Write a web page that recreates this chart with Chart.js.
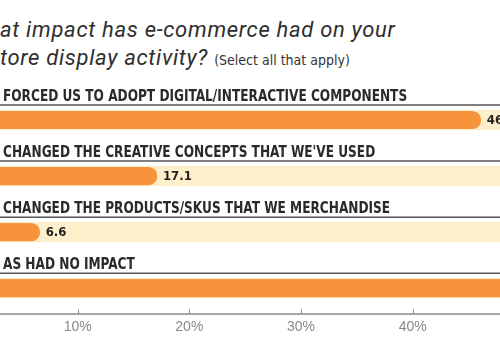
<!DOCTYPE html>
<html>
<head>
<meta charset="utf-8">
<script src="https://cdn.jsdelivr.net/npm/chart.js@4.4.1/dist/chart.umd.min.js"></script>
<style>
  html, body { margin: 0; padding: 0; background: #ffffff; width: 500px; height: 350px; overflow: hidden; }
  #title { position: absolute; left: 0; top: 16px; font-family: Roboto, "Liberation Sans", sans-serif; font-style: italic; font-size: 22px; letter-spacing: 0.7px; line-height: 28px; color: #2e2e2e; white-space: nowrap; }
  #title .sub { font-style: normal; letter-spacing: 0; font-family: "DejaVu Sans Condensed", sans-serif; font-size: 14px; color: #333; }
  #wrap { position: absolute; left: -37px; top: 0; width: 676px; height: 350px; }
</style>
</head>
<body>
<div id="title">at impact has e-commerce had on your<br>tore display activity? <span class="sub">(Select all that apply)</span></div>
<div id="wrap"><canvas id="c"></canvas></div>
<script>
const categories = [
  "FORCED US TO ADOPT DIGITAL/INTERACTIVE COMPONENTS",
  "CHANGED THE CREATIVE CONCEPTS THAT WE'VE USED",
  "CHANGED THE PRODUCTS/SKUS THAT WE MERCHANDISE",
  "AS HAD NO IMPACT"
];
const values = [46.1, 17.1, 6.6, 52.3];
const tickValues = [10, 20, 30, 40, 50];
const axisMin = 0;
const axisMax = 60;

const barColor = '#F7933B';
const trackColor = '#FEEFCC';

const decorPlugin = {
  id: 'decor',
  beforeDatasetsDraw(chart) {
    const ctx = chart.ctx;
    const meta = chart.getDatasetMeta(0);
    const area = chart.chartArea;
    ctx.save();
    meta.data.forEach((bar, i) => {
      const h = bar.height + 3;
      ctx.fillStyle = trackColor;
      ctx.fillRect(area.left, bar.y - h / 2, area.right - area.left, h);
      // category label (condensed) and underline
      ctx.save();
      ctx.fillStyle = '#2a2a2a';
      ctx.font = 'bold 15px "DejaVu Sans Condensed", sans-serif';
      ctx.textBaseline = 'alphabetic';
      ctx.textAlign = 'left';
      ctx.translate(area.left + 37, bar.y - 19.5);
      ctx.scale(0.9, 1);
      ctx.fillText(categories[i], 0, 0);
      ctx.restore();
      ctx.strokeStyle = '#555555';
      ctx.lineWidth = 1.5;
      ctx.beginPath();
      ctx.moveTo(0, bar.y - 15);
      ctx.lineTo(chart.width, bar.y - 15);
      ctx.stroke();
    });
    ctx.restore();
  },
  afterDatasetsDraw(chart) {
    const ctx = chart.ctx;
    const meta = chart.getDatasetMeta(0);
    const xs = chart.scales.x;
    const area = chart.chartArea;
    ctx.save();
    meta.data.forEach((bar, i) => {
      ctx.fillStyle = '#231F20';
      ctx.font = 'bold 13px "DejaVu Sans Condensed", sans-serif';
      ctx.textBaseline = 'middle';
      ctx.textAlign = 'left';
      ctx.fillText(values[i].toFixed(1), bar.x + 6, bar.y + 0.5);
    });
    // axis line with upward ticks
    const ay = area.bottom - 2.3;
    ctx.strokeStyle = '#8a8a8a';
    ctx.lineWidth = 1.5;
    ctx.beginPath();
    ctx.moveTo(0, ay);
    ctx.lineTo(chart.width, ay);
    ctx.stroke();
    ctx.lineWidth = 1;
    tickValues.forEach(v => {
      const x = Math.round(xs.getPixelForValue(v)) + 0.5;
      ctx.beginPath();
      ctx.moveTo(x, ay);
      ctx.lineTo(x, ay - 4.5);
      ctx.stroke();
    });
    ctx.restore();
  }
};

new Chart(document.getElementById('c'), {
  type: 'bar',
  data: {
    labels: categories,
    datasets: [{
      data: values,
      backgroundColor: barColor,
      borderWidth: 0,
      borderRadius: { topLeft: 0, bottomLeft: 0, topRight: 9, bottomRight: 9 },
      borderSkipped: false,
      barThickness: 17.5
    }]
  },
  options: {
    indexAxis: 'y',
    responsive: true,
    maintainAspectRatio: false,
    animation: false,
    layout: { padding: { top: 92, bottom: 11, left: 0, right: 0 } },
    plugins: { legend: { display: false }, tooltip: { enabled: false }, title: { display: false } },
    scales: {
      y: { display: false },
      x: {
        min: axisMin, max: axisMax,
        grid: { display: false, drawTicks: false, tickLength: 0 },
        border: { display: false },
        ticks: {
          stepSize: 10,
          padding: 3,
          color: '#8a8a8a',
          font: { family: '"Liberation Sans", sans-serif', size: 14 },
          maxRotation: 0,
          autoSkip: false,
          callback: (v) => tickValues.includes(v) ? v + '%' : ''
        }
      }
    }
  },
  plugins: [decorPlugin]
});
</script>
</body>
</html>
